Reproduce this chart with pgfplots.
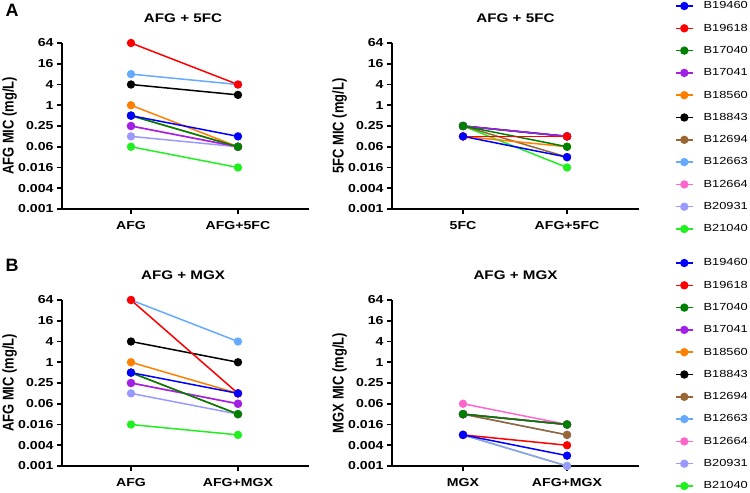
\documentclass[border=0pt]{standalone}
\usepackage{pgfplots}
\pgfplotsset{compat=1.18}
\usepackage{graphicx}
\usepackage{fontspec}
\setmainfont{Liberation Sans}
\newcommand\sx[1]{\scalebox{1.22}[1]{#1}}
\newcommand\lgs[1]{\scalebox{1.25}[1]{#1}}
\newcommand\yl[1]{\scalebox{1}[1.2]{#1}}
\definecolor{cA}{RGB}{0,0,255}
\definecolor{cB}{RGB}{255,0,0}
\definecolor{cC}{RGB}{0,128,0}
\definecolor{cD}{RGB}{160,32,230}
\definecolor{cE}{RGB}{255,128,0}
\definecolor{cF}{RGB}{0,0,0}
\definecolor{cG}{RGB}{153,102,51}
\definecolor{cH}{RGB}{102,170,255}
\definecolor{cI}{RGB}{255,102,204}
\definecolor{cJ}{RGB}{153,153,255}
\definecolor{cK}{RGB}{32,240,32}
\newcommand\pl[3]{\addplot[#1] coordinates {(0,#2) (1,#3)};}
\newcommand\pll[4]{\addplot[#1] coordinates {(0,#3) (1,#4)}; \addlegendentry{\lgs{#2}}}
\pgfplotsset{
    scale only axis, width=247bp, height=166bp,
    axis x line*=bottom, axis y line*=left,
    axis line style={-, line width=1.6bp, black},
    ymin=0.0009765625, ymax=64,
    ytick={0.0009765625,0.00390625,0.015625,0.0625,0.25,1,4,16,64},
    yticklabels={\sx{0.001},\sx{0.004},\sx{0.016},\sx{0.06},\sx{0.25},\sx{1},\sx{4},\sx{16},\sx{64}},
    yminorticks=false, xminorticks=false,
    xtick={0,1},
    tick align=outside, major tick length=5bp,
    every tick/.style={black, line width=1.6bp},
    tick label style={font=\bfseries\fontsize{11.6}{13}\selectfont, black},
    xticklabel style={yshift=-4bp},
    title style={font=\bfseries\fontsize{12.5}{14}\selectfont, at={(0.5,1)}, anchor=base, yshift=15bp},
    every axis y label/.style={at={(axis description cs:-0.196,0.5)}, rotate=90, anchor=base, font=\bfseries\fontsize{13}{15}\selectfont},
    clip=false,
    every axis plot/.append style={line width=1.5bp, mark=*, mark size=3.4bp, mark options={solid}},
    reverse legend, legend cell align=left,
    legend style={at={(axis description cs:1.146,1.256)}, anchor=north west, draw=none, fill=none,
      inner sep=0pt, outer sep=0pt, row sep=11.3bp, column sep=0pt,
      font=\fontsize{10.3}{12}\selectfont, nodes={inner sep=0pt, minimum height=11bp}},
    legend image code/.code={\draw[#1, mark repeat=2, mark phase=2] plot coordinates {(0bp,0bp) (8.5bp,0bp) (17bp,0bp)}; \path (27bp,0bp);},
}
\begin{document}
\begin{tikzpicture}
\path[use as bounding box] (0,0) rectangle (750bp,-493bp);
\node[anchor=base west, font=\bfseries\fontsize{18}{20}\selectfont] at (2bp,-16.5bp) {A};
\node[anchor=base west, font=\bfseries\fontsize{18}{20}\selectfont] at (2bp,-271bp) {B};
% ---------- A left ----------
\begin{axis}[ymode=log, log basis y=2, at={(62bp,-209bp)}, anchor=south west, xmin=-0.645, xmax=1.664,
  title={\sx{AFG + 5FC}}, title style={at={(0.49,1)}},
  ylabel={\yl{AFG MIC (mg/L)}},
  xticklabels={\sx{AFG},\sx{AFG+5FC}}]
\pl{cK}{0.0625}{0.015625}
\pl{cJ}{0.125}{0.0625}
\pl{cI}{0.25}{0.0625}
\pl{cH}{8}{4}
\pl{cG}{0.5}{0.0625}
\pl{cF}{4}{2}
\pl{cE}{1}{0.0625}
\pl{cD}{0.25}{0.0625}
\pl{cC}{0.5}{0.0625}
\pl{cB}{64}{4}
\pl{cA}{0.5}{0.125}
\end{axis}
% ---------- A right ----------
\begin{axis}[ymode=log, log basis y=2, at={(392bp,-209bp)}, anchor=south west, xmin=-0.683, xmax=1.692,
  title={\sx{AFG + 5FC}},
  ylabel={\yl{5FC MIC (mg/L)}},
  xticklabels={\sx{5FC},\sx{AFG+5FC}}]
\pll{cK}{B21040}{0.25}{0.015625}
\pll{cJ}{B20931}{0.25}{0.125}
\pll{cI}{B12664}{0.25}{0.125}
\pll{cH}{B12663}{0.25}{0.125}
\pll{cG}{B12694}{0.25}{0.03125}
\pll{cF}{B18843}{0.25}{0.125}
\pll{cE}{B18560}{0.125}{0.0625}
\pll{cD}{B17041}{0.25}{0.125}
\pll{cC}{B17040}{0.25}{0.0625}
\pll{cB}{B19618}{0.125}{0.125}
\pll{cA}{B19460}{0.125}{0.03125}
\end{axis}
% ---------- B left ----------
\begin{axis}[ymode=log, log basis y=2, at={(62bp,-466bp)}, anchor=south west, xmin=-0.645, xmax=1.664,
  title={\sx{AFG + MGX}}, title style={at={(0.49,1)}},
  ylabel={\yl{AFG MIC (mg/L)}},
  xticklabels={\sx{AFG},\sx{AFG+MGX}}]
\pl{cK}{0.015625}{0.0078125}
\pl{cJ}{0.125}{0.03125}
\pl{cI}{0.25}{0.0625}
\pl{cH}{64}{4}
\pl{cG}{0.5}{0.03125}
\pl{cF}{4}{1}
\pl{cE}{1}{0.125}
\pl{cD}{0.25}{0.0625}
\pl{cC}{0.5}{0.03125}
\pl{cB}{64}{0.125}
\pl{cA}{0.5}{0.125}
\end{axis}
% ---------- B right ----------
\begin{axis}[ymode=log, log basis y=2, at={(392bp,-466bp)}, anchor=south west, xmin=-0.683, xmax=1.692,
  title={\sx{AFG + MGX}},
  ylabel={\yl{MGX MIC (mg/L)}},
  xticklabels={\sx{MGX},\sx{AFG+MGX}}]
\pll{cK}{B21040}{0.0078125}{0.0009765625}
\pll{cJ}{B20931}{0.0078125}{0.0009765625}
\pll{cI}{B12664}{0.0625}{0.015625}
\pll{cH}{B12663}{0.03125}{0.0078125}
\pll{cG}{B12694}{0.03125}{0.0078125}
\pll{cF}{B18843}{0.03125}{0.015625}
\pll{cE}{B18560}{0.03125}{0.015625}
\pll{cD}{B17041}{0.03125}{0.015625}
\pll{cC}{B17040}{0.03125}{0.015625}
\pll{cB}{B19618}{0.0078125}{0.00390625}
\pll{cA}{B19460}{0.0078125}{0.001953125}
\end{axis}
\end{tikzpicture}
\end{document}
